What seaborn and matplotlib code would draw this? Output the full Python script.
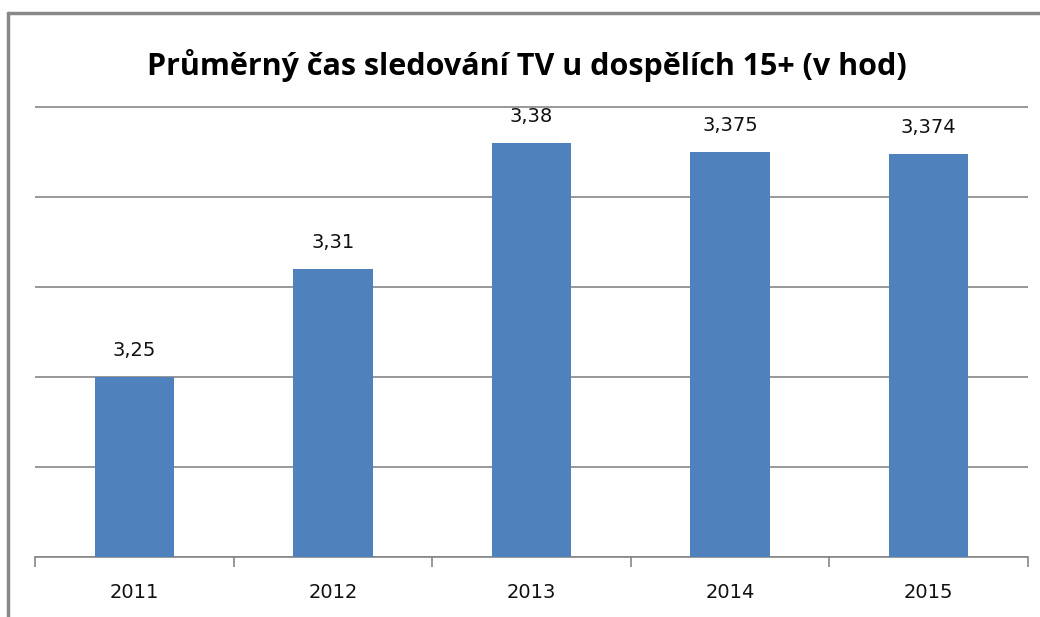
import numpy as np
import pandas as pd
import matplotlib.pyplot as plt
from matplotlib.lines import Line2D
import seaborn as sns

sns.set_style("white")
plt.rcParams['font.family'] = ['DejaVu Sans']

# data
years = ["2011", "2012", "2013", "2014", "2015"]
hours = [3.25, 3.31, 3.38, 3.375, 3.374]
labels = ["3,25", "3,31", "3,38", "3,375", "3,374"]

df = pd.DataFrame({"year": years, "hours": hours})

fig = plt.figure(figsize=(10.4, 6.17), dpi=100)
ax = fig.add_axes([35 / 1040, 60 / 617, 993 / 1040, 451 / 617])

sns.barplot(data=df, x="year", y="hours", color="#4F81BD", width=0.4,
            saturation=1, linewidth=0, ax=ax, zorder=3)

ax.set_ylim(3.15, 3.40 + 0.25 / 450)
ax.set_xlim(-0.5, 4.5)
ax.set_yticks(np.arange(3.15, 3.401, 0.05))
ax.set_yticklabels([])
ax.yaxis.grid(True, color="#868686", linewidth=1.2)
ax.tick_params(axis="y", length=0)
ax.set_xlabel("")
ax.set_ylabel("")

ax.set_xticks(range(len(years)))
ax.set_xticklabels(years, fontsize=14, color="#111111")
ax.set_xticks(np.arange(-0.5, 4.6, 1), minor=True)
ax.tick_params(axis="x", which="major", bottom=False, length=0, pad=19)
ax.tick_params(axis="x", which="minor", bottom=True, length=7, color="#868686",
               width=1.2, direction="out")

for s in ["top", "right", "left"]:
    ax.spines[s].set_visible(False)
ax.spines["bottom"].set_color("#868686")
ax.spines["bottom"].set_linewidth(1.2)

for i, (v, lab) in enumerate(zip(hours, labels)):
    ax.annotate(lab, (i, v), xytext=(0, 12), textcoords="offset points",
                ha="center", va="bottom", fontsize=14, color="#111111")

fig.text(0.507, 1 - 65 / 617, "Průměrný čas sledování TV u dospělích 15+ (v hod)",
         ha="center", va="center", fontsize=22, fontweight="bold",
         color="black", family=["Open Sans", "DejaVu Sans"])

# outer frame of the chart
fig.add_artist(Line2D([8 / 1040, 8 / 1040], [0, 1 - 13 / 617], color="#888888", linewidth=2.5))
fig.add_artist(Line2D([8 / 1040, 1], [1 - 13 / 617, 1 - 13 / 617], color="#888888", linewidth=2.5))

fig.savefig("out.png", dpi=100)
